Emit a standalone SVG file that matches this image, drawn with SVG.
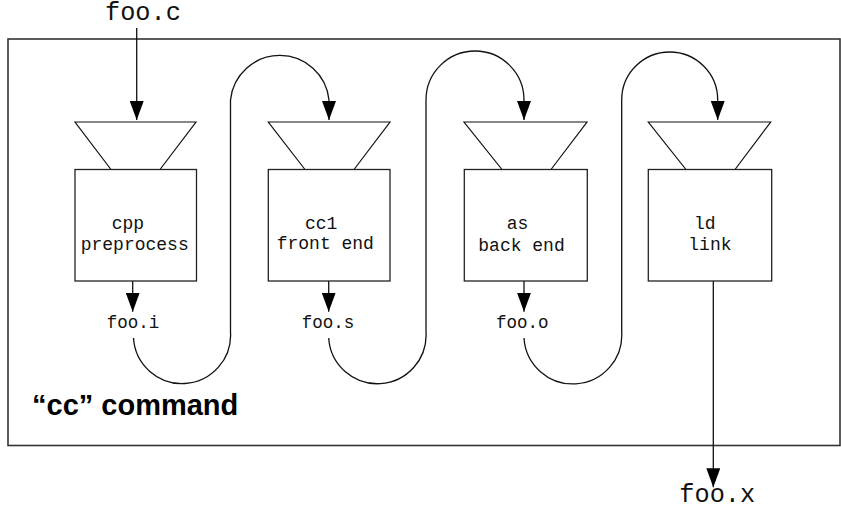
<svg xmlns="http://www.w3.org/2000/svg" width="841" height="510" viewBox="0 0 841 510">
<defs>
<style>
.frame{fill:none;stroke:#333;stroke-width:1.6}
.box{fill:#fff;stroke:#222;stroke-width:1.3}
.fun{fill:#fff;stroke:#111;stroke-width:1.2}
.wire{fill:none;stroke:#111;stroke-width:1.3}
.mono{font-family:"Liberation Mono","Courier New",monospace;fill:#111}
.lbl{font-size:18px}
.file{font-size:17.5px}
.big{font-size:25.3px}
.title{font-family:"Liberation Sans",Arial,sans-serif;font-weight:bold;font-size:29px;fill:#000}
</style>
<marker id="ah" viewBox="0 0 19 14" refX="19" refY="7" markerWidth="19" markerHeight="14" markerUnits="userSpaceOnUse" orient="auto">
<path d="M0,0 L19,7 L0,14 Z" fill="#000"/>
</marker>
</defs>
<rect class="frame" x="8" y="39" width="832" height="406.5"/>
<text class="title" x="32" y="415">“cc” command</text>
<g id="connectors">
<path class="wire" d="M136.7,28 V120" marker-end="url(#ah)"/>
<path class="wire" d="M132.7,281 V311.7" marker-end="url(#ah)"/>
<path class="wire" d="M328.7,281 V311.7" marker-end="url(#ah)"/>
<path class="wire" d="M524,281 V311.7" marker-end="url(#ah)"/>
<path class="wire" d="M713.3,281 V487.3" marker-end="url(#ah)"/>
<path class="wire" d="M133.5,338 A48.5,48.5 0 0 0 230.5,332 V100 A49.5,49.5 0 0 1 329,100 V120" marker-end="url(#ah)"/>
<path class="wire" d="M328.7,338 A48.6,48.6 0 0 0 426,332 V100 A49,49 0 0 1 524,100 V120" marker-end="url(#ah)"/>
<path class="wire" d="M524,338 A48.8,48.8 0 0 0 621.7,332 V100 A48,48 0 0 1 717.7,100 V120" marker-end="url(#ah)"/>
</g>
<g id="cpp">
<polygon class="fun" points="75,122 196,122 160,169.5 111,169.5"/>
<rect class="box" x="75" y="169.5" width="121.5" height="111.5"/>
<text class="mono lbl" x="111.7" y="228.5">cpp</text>
<text class="mono lbl" x="80.7" y="250">preprocess</text>
</g>
<g id="cc1">
<polygon class="fun" points="268.3,122 390,122 354,169.5 305,169.5"/>
<rect class="box" x="268.3" y="169.5" width="121.7" height="111.5"/>
<text class="mono lbl" x="305" y="228.5">cc1</text>
<text class="mono lbl" x="276.7" y="249">front end</text>
</g>
<g id="as">
<polygon class="fun" points="464,122 587,122 551,169.5 502,169.5"/>
<rect class="box" x="464.3" y="169.5" width="123" height="111.5"/>
<text class="mono lbl" x="506.7" y="228.5">as</text>
<text class="mono lbl" x="478.3" y="251">back end</text>
</g>
<g id="ld">
<polygon class="fun" points="648.3,122 770.7,122 735,169.5 686,169.5"/>
<rect class="box" x="648.3" y="169.5" width="123.4" height="111.5"/>
<text class="mono lbl" x="694" y="229">ld</text>
<text class="mono lbl" x="688.3" y="250">link</text>
</g>
<g id="files">
<text class="mono big" x="105" y="20">foo.c</text>
<text class="mono file" x="106.7" y="328">foo.i</text>
<text class="mono file" x="301.7" y="328">foo.s</text>
<text class="mono file" x="496" y="328">foo.o</text>
<text class="mono big" x="679.3" y="501.7">foo.x</text>
</g>
</svg>
